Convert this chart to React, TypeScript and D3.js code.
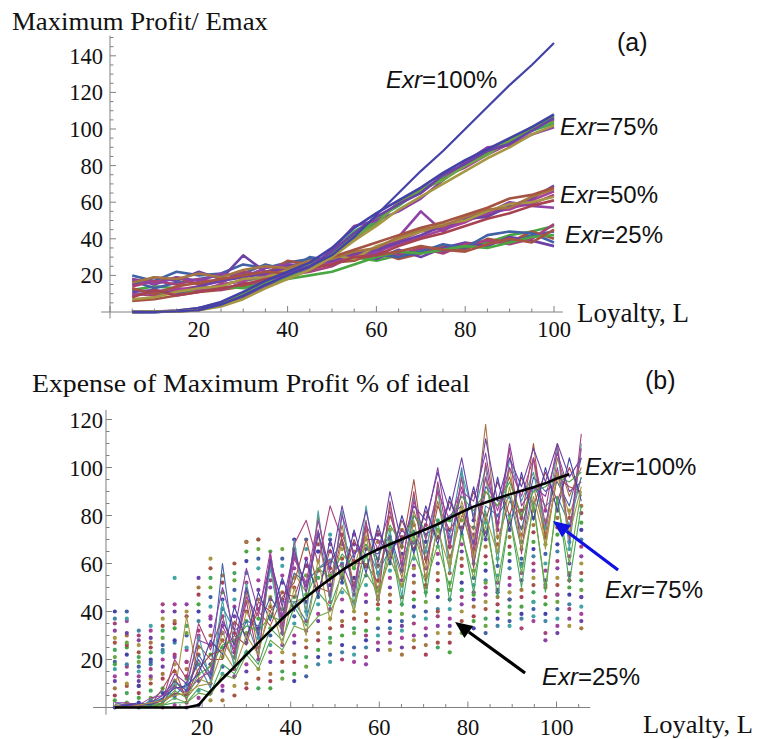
import React from "react";
import * as d3 from "d3";

// ---------- Panel (a) data ----------
const LA = [5, 10, 15, 20, 25, 30, 35, 40, 45, 50, 55, 60, 65, 70, 75, 80, 85, 90, 95, 100];
const A_EXR100 = [0, 0, 0.3, 1, 4, 9, 15, 20, 25, 31, 41, 53, 65, 77, 88, 100, 112, 124, 135, 147];
const A_EXR75 = [
  [0, 0, 0.4, 1.2, 4, 9, 14, 19, 24, 33, 44, 51, 58, 67, 73, 81, 88, 94, 99, 103],
  [0, 0.2, 0.8, 2, 5, 10, 16, 21, 26, 31, 40, 49, 60, 65, 74, 79, 86, 92, 100, 105],
  [0, 0, 0.5, 1.5, 3.5, 8, 15, 20, 25, 32, 42, 50, 59, 66, 73, 80, 87, 93, 100, 107],
  [0, 0, 0.3, 1, 4.5, 9.5, 15.5, 20.5, 24, 34, 47, 50, 55, 62, 72, 82, 90, 91, 97, 101],
  [0, 0.1, 0.6, 1.8, 5, 10, 16, 19, 26, 30, 41, 48, 60, 67, 72, 80, 86, 94, 101, 104],
  [0, 0, 0.4, 1.3, 4, 8.5, 14, 21, 25, 33, 43, 52, 59, 65, 75, 81, 88, 92, 99, 106],
  [0, 0, 0.6, 2.2, 5.5, 11, 17, 22, 27, 35, 46, 54, 61, 68, 76, 83, 89, 95, 101, 108],
  [0, 0.3, 0.2, 1, 3, 7, 13, 18, 23, 30, 39, 47, 56, 63, 70, 77, 84, 90, 97, 102],
];
const A_EXR50 = [
  [14, 17, 15, 18, 16, 22, 20, 24, 23, 29, 31, 35, 39, 44, 46, 50, 53, 57, 59, 64],
  [9, 11, 13, 12, 15, 17, 20, 22, 26, 27, 30, 33, 37, 41, 45, 49, 55, 56, 61, 66],
  [18, 15, 19, 17, 21, 19, 24, 26, 25, 30, 33, 32, 41, 55, 44, 52, 54, 60, 58, 57],
  [11, 12, 10, 14, 17, 19, 21, 25, 27, 28, 32, 34, 38, 42, 47, 51, 52, 58, 62, 69],
  [7, 8, 11, 13, 14, 18, 19, 23, 26, 31, 29, 36, 40, 44, 48, 50, 55, 59, 60, 63],
  [16, 19, 18, 21, 19, 23, 25, 24, 28, 29, 33, 35, 41, 45, 47, 52, 56, 57, 63, 67],
  [13, 10, 14, 16, 18, 20, 22, 21, 25, 30, 34, 38, 42, 46, 49, 53, 57, 62, 64, 68],
  [8, 12, 9, 11, 13, 15, 18, 20, 24, 26, 30, 31, 36, 40, 43, 47, 51, 54, 58, 61],
];
const A_EXR25 = [
  [20, 17, 22, 20, 21, 26, 24, 27, 29, 27, 33, 30, 32, 34, 33, 36, 38, 39, 42, 44],
  [12, 14, 13, 11, 15, 17, 19, 21, 24, 27, 30, 28, 31, 33, 35, 37, 38, 42, 44, 47],
  [6, 7, 9, 11, 12, 14, 17, 20, 23, 27, 28, 33, 29, 32, 36, 34, 40, 38, 44, 40],
  [15, 19, 17, 22, 18, 31, 22, 25, 27, 30, 32, 29, 34, 30, 35, 38, 36, 41, 39, 36],
  [10, 9, 12, 14, 12, 16, 15, 20, 22, 25, 31, 34, 31, 35, 32, 37, 39, 37, 40, 48],
  [17, 13, 16, 18, 20, 21, 26, 23, 30, 28, 30, 32, 30, 33, 37, 35, 42, 44, 43, 38],
  [9, 11, 10, 12, 14, 13, 16, 18, 20, 22, 26, 30, 33, 32, 34, 36, 35, 38, 41, 42],
  [18, 16, 19, 15, 17, 20, 21, 28, 26, 31, 29, 31, 33, 36, 34, 33, 37, 40, 38, 45],
];
const A_YTICKS = [20, 40, 60, 80, 100, 120, 140];
const A_XTICKS = [20, 40, 60, 80, 100];

// ---------- Panel (b) data ----------
const LB = [0.3, 3.0, 5.7, 8.4, 11.1, 13.8, 16.5, 19.2, 21.9, 24.6, 27.3, 30.0, 32.7, 35.4, 38.1, 40.8, 43.5, 46.2, 48.9, 51.6,
  54.3, 57.0, 59.7, 62.4, 65.1, 67.8, 70.5, 73.2, 75.9, 78.6, 81.3, 84.0, 86.7, 89.4, 92.1, 94.8, 97.5, 100.2, 102.9, 105.6];
const B_IDEAL = [0, 0, 0, 0, 0, 0, 0, 1, 6.8, 12, 16.9, 22, 27, 32, 37, 41.6, 45.9, 49.9, 53.6, 57.2,
  60.3, 63.5, 65.9, 68, 70.1, 72.2, 74.3, 76.4, 79, 81.4, 83.7, 85.4, 87.2, 88.8, 90.3, 91.8, 93.4, 95.5, 97.2];
const B_LINES = [
  [0, 1, 0, 1, 3, 6, 38, 12, 10, 32, 18, 40, 30, 60, 32, 56, 48, 72, 44, 70, 58, 76, 48, 84, 62, 72, 58, 90, 60, 86, 70, 96, 64, 100, 70, 104, 66, 98, 80, 96],
  [1, 0, 1, 0, 2, 9, 5, 22, 14, 60, 24, 36, 34, 46, 38, 56, 52, 58, 60, 70, 48, 66, 64, 72, 56, 80, 72, 76, 80, 84, 68, 92, 86, 88, 74, 96, 90, 94, 84, 104],
  [0, 2, 1, 2, 1, 12, 4, 10, 18, 28, 20, 48, 24, 40, 32, 66, 40, 80, 52, 76, 50, 74, 58, 70, 54, 82, 66, 86, 62, 80, 74, 118, 70, 86, 80, 92, 72, 104, 88, 100],
  [2, 1, 0, 3, 7, 5, 10, 18, 8, 42, 32, 36, 22, 60, 44, 44, 36, 58, 62, 56, 64, 68, 56, 66, 70, 74, 62, 78, 72, 100, 60, 84, 80, 88, 66, 92, 84, 88, 76, 96],
  [0, 0, 1, 1, 8, 16, 3, 26, 20, 20, 36, 30, 40, 34, 46, 52, 70, 50, 48, 72, 60, 60, 52, 80, 66, 95, 60, 84, 74, 82, 64, 90, 84, 96, 78, 110, 70, 96, 92, 90],
  [1, 0, 0, 2, 4, 10, 8, 30, 11, 45, 16, 52, 28, 58, 30, 70, 38, 82, 44, 82, 42, 84, 54, 74, 46, 88, 64, 92, 56, 98, 80, 100, 60, 104, 86, 98, 74, 108, 66, 110],
  [0, 1, 0, 0, 2, 6, 5, 16, 22, 24, 30, 26, 44, 40, 48, 46, 60, 48, 66, 54, 70, 58, 74, 62, 78, 66, 82, 70, 86, 74, 90, 78, 94, 80, 96, 84, 98, 86, 100, 88],
  [0, 0, 1, 1, 3, 20, 12, 35, 24, 38, 22, 44, 20, 64, 34, 68, 78, 60, 84, 70, 50, 78, 44, 86, 58, 90, 52, 94, 66, 96, 58, 102, 74, 108, 64, 104, 82, 110, 70, 114],
  [1, 0, 0, 1, 1, 2, 2, 8, 6, 18, 14, 24, 18, 33, 28, 42, 34, 48, 42, 56, 40, 64, 44, 70, 42, 72, 46, 78, 44, 74, 48, 82, 46, 80, 50, 86, 48, 88, 52, 84],
  [0, 1, 1, 4, 5, 9, 6, 12, 15, 34, 24, 46, 38, 65, 30, 62, 52, 78, 56, 60, 48, 76, 66, 82, 60, 86, 70, 90, 78, 92, 66, 96, 82, 100, 88, 104, 76, 100, 72, 108],
  [0, 0, 0, 1, 2, 7, 4, 14, 17, 26, 28, 34, 32, 38, 36, 44, 46, 58, 54, 64, 58, 68, 62, 76, 68, 80, 74, 76, 78, 88, 82, 90, 84, 94, 80, 90, 92, 96, 94, 98],
  [2, 2, 1, 2, 3, 14, 10, 28, 26, 50, 32, 58, 40, 60, 38, 64, 50, 74, 46, 80, 64, 70, 70, 64, 74, 68, 76, 100, 68, 90, 86, 106, 76, 110, 84, 92, 88, 106, 90, 94],
  [0, 0, 0, 0, 1, 4, 2, 6, 5, 14, 12, 22, 16, 28, 24, 34, 32, 38, 40, 50, 44, 56, 48, 62, 50, 64, 52, 68, 50, 72, 54, 76, 52, 80, 56, 84, 50, 86, 60, 90],
  [1, 1, 1, 2, 5, 11, 7, 20, 12, 36, 26, 50, 30, 62, 42, 66, 48, 72, 58, 84, 62, 82, 60, 90, 68, 84, 78, 98, 82, 104, 78, 112, 86, 104, 92, 108, 94, 110, 96, 104],
  [0, 1, 2, 1, 4, 8, 9, 14, 28, 22, 42, 28, 48, 36, 54, 40, 62, 46, 70, 52, 74, 56, 76, 60, 80, 64, 84, 68, 88, 72, 92, 70, 96, 74, 98, 78, 100, 82, 104, 86],
  [1, 0, 1, 2, 3, 5, 6, 9, 10, 24, 16, 30, 22, 44, 26, 50, 30, 62, 36, 58, 40, 72, 44, 66, 50, 78, 54, 74, 58, 84, 62, 80, 64, 92, 66, 88, 68, 98, 72, 92],
];
const B_DOTS = [
  [0, 1, 0, 1, 0, 1, 0, 1, 3, 3, 5, 8, 8, 8, 12, 11, 13, 18, 19, 20, 19, 18, 24, 24, 22, 25, 22, 25, 23, 31, 33, 31, 34, 34, 33, 36, 28, 31, 34, 33],
  [3, 2, 2, 3, 3, 4, 2, 4, 6, 7, 9, 10, 12, 11, 15, 14, 17, 21, 22, 23, 22, 21, 27, 27, 25, 28, 26, 27, 27, 33, 36, 34, 37, 36, 37, 38, 31, 34, 37, 36],
  [5, 6, 4, 4, 6, 5, 7, 7, 10, 9, 13, 15, 16, 14, 19, 19, 21, 24, 27, 26, 25, 25, 30, 31, 29, 30, 30, 31, 31, 36, 38, 37, 40, 39, 39, 41, 36, 37, 41, 39],
  [8, 9, 6, 7, 8, 9, 10, 11, 14, 14, 16, 18, 20, 19, 23, 22, 25, 28, 29, 30, 31, 28, 33, 33, 32, 35, 33, 34, 34, 40, 42, 41, 43, 42, 42, 44, 39, 41, 43, 42],
  [11, 10, 9, 10, 12, 11, 12, 14, 18, 17, 21, 23, 25, 23, 26, 27, 28, 31, 33, 34, 33, 32, 37, 36, 36, 38, 37, 38, 37, 43, 45, 44, 46, 45, 46, 48, 43, 44, 47, 46],
  [13, 14, 11, 12, 14, 15, 13, 18, 22, 21, 23, 27, 29, 26, 31, 30, 32, 36, 37, 36, 37, 36, 41, 40, 39, 42, 40, 41, 41, 46, 48, 47, 49, 48, 49, 51, 46, 47, 50, 49],
  [16, 17, 13, 13, 17, 18, 16, 22, 26, 25, 27, 31, 33, 30, 34, 35, 36, 39, 41, 40, 40, 39, 43, 44, 43, 45, 44, 46, 45, 49, 51, 50, 52, 51, 53, 54, 50, 51, 53, 53],
  [19, 18, 15, 16, 20, 21, 19, 25, 30, 28, 31, 36, 37, 33, 38, 38, 40, 43, 44, 45, 44, 44, 46, 47, 46, 48, 48, 49, 49, 52, 54, 53, 55, 54, 56, 57, 53, 54, 56, 56],
  [21, 22, 17, 18, 23, 22, 24, 29, 34, 31, 35, 40, 41, 38, 41, 42, 44, 46, 47, 48, 47, 47, 50, 50, 51, 52, 51, 53, 52, 56, 57, 57, 59, 58, 59, 60, 57, 58, 60, 60],
  [24, 25, 19, 20, 26, 27, 25, 32, 38, 34, 38, 44, 45, 42, 45, 46, 47, 50, 51, 52, 51, 51, 53, 54, 53, 55, 55, 56, 56, 59, 60, 60, 62, 61, 62, 63, 60, 61, 63, 63],
  [27, 26, 21, 23, 29, 28, 30, 36, 42, 38, 42, 48, 49, 46, 48, 50, 51, 54, 55, 54, 54, 55, 56, 57, 57, 59, 58, 60, 60, 62, 63, 63, 65, 64, 66, 66, 64, 65, 66, 67],
  [29, 30, 23, 25, 32, 33, 31, 40, 46, 41, 45, 52, 53, 50, 52, 54, 55, 57, 58, 59, 58, 59, 59, 60, 60, 62, 62, 64, 63, 65, 66, 67, 68, 67, 69, 69, 68, 68, 69, 70],
  [32, 31, 26, 27, 34, 35, 34, 43, 50, 45, 49, 56, 58, 53, 55, 58, 59, 61, 61, 62, 61, 63, 62, 64, 64, 66, 65, 67, 67, 68, 69, 70, 71, 71, 72, 73, 71, 72, 72, 74],
  [35, 36, 28, 29, 37, 36, 38, 47, 54, 48, 53, 61, 62, 57, 59, 62, 62, 65, 65, 66, 65, 66, 66, 67, 67, 69, 69, 71, 71, 72, 72, 73, 74, 74, 75, 76, 75, 75, 76, 77],
  [37, 37, 30, 32, 40, 40, 40, 50, 58, 52, 56, 65, 66, 61, 62, 66, 66, 68, 68, 68, 68, 70, 69, 71, 71, 73, 72, 74, 74, 75, 75, 77, 77, 77, 79, 79, 78, 79, 79, 81],
  [40, 40, 32, 34, 43, 43, 43, 54, 62, 55, 60, 69, 70, 65, 66, 70, 70, 72, 72, 72, 72, 74, 72, 74, 74, 76, 76, 78, 78, 78, 78, 80, 80, 80, 82, 82, 82, 82, 82, 84],
  [18, 27, 9, 19, 24, 54, 19, 30, 37, 31, 28, 69, 70, 45, 31, 66, 55, 65, 70, 60, 52, 30, 45, 70, 34, 58, 50, 40, 67, 49, 47, 52, 48, 45, 60, 44, 51, 47, 55, 46],
];
const B_YTICKS = [20, 40, 60, 80, 100, 120];
const B_XTICKS = [20, 40, 60, 80, 100];

// Mathematica-style default palette (golden-ratio hues)
const PALETTE = ["#4442a6", "#a6427b", "#a69742", "#42a65d", "#4262a6", "#a6429c", "#a67642", "#49a642",
  "#4283a6", "#8f42a6", "#a65442", "#6aa642", "#42a4a6", "#6d42a6", "#a64251"];

const SERIF = "'Liberation Serif', 'Times New Roman', serif";
const SANS = "'Liberation Sans', Arial, sans-serif";
const AXIS = "#808080";

// scales
const xA = d3.scaleLinear().domain([0, 100]).range([110, 554]);
const yA = d3.scaleLinear().domain([0, 140]).range([312, 55.8]);
const xB = d3.scaleLinear().domain([0, 100]).range([113.5, 556.5]);
const yB = d3.scaleLinear().domain([0, 120]).range([707.5, 419.5]);

function Arrow({ x1, y1, x2, y2, color }: { x1: number; y1: number; x2: number; y2: number; color: string }) {
  const ang = Math.atan2(y2 - y1, x2 - x1);
  const len = 17, hw = 7.5;
  const bx = x2 - len * Math.cos(ang), by = y2 - len * Math.sin(ang);
  const px = -Math.sin(ang) * hw, py = Math.cos(ang) * hw;
  return (
    <g>
      <line x1={x1} y1={y1} x2={bx} y2={by} stroke={color} strokeWidth={3.2} />
      <polygon points={`${x2},${y2} ${bx + px},${by + py} ${bx - px},${by - py}`} fill={color} />
    </g>
  );
}

function ExrLabel({ x, y, rest, size = 24 }: { x: number; y: number; rest: string; size?: number }) {
  return (
    <text x={x} y={y} fontFamily={SANS} fontSize={size} fill="#111">
      <tspan fontStyle="italic">Exr</tspan>
      <tspan>{rest}</tspan>
    </text>
  );
}

export default function App() {
  const lineA = d3.line<number>().x((_, i) => xA(LA[i])).y((d) => yA(d));
  const lineB = d3.line<number>().x((_, i) => xB(LB[i])).y((d) => yB(d));

  const aMinorY = d3.range(5, 151, 5);
  const aMinorX = d3.range(0, 101, 5);
  const bMinorY = d3.range(5, 121, 5);
  const bMinorX = d3.range(0, 106, 5);

  const blueTail = { l: 113.9, v: 57.3 }, blueTip = { l: 99.2, v: 77.7 };
  const blackTail = { l: 92.9, v: 14.4 }, blackTip = { l: 77.1, v: 35.6 };

  return (
    <svg width={758} height={739} style={{ position: "absolute", left: 0, top: 0, background: "#fff" }}>
      <rect x={0} y={0} width={758} height={739} fill="#fff" />

      {/* ================= Panel (a) ================= */}
      <text x={12} y={30} fontFamily={SERIF} fontSize={26} textLength={256} lengthAdjust="spacingAndGlyphs" fill="#111">
        Maximum Profit/ Emax
      </text>
      <text x={617} y={51} fontFamily={SANS} fontSize={25} fill="#111">(a)</text>

      <line x1={xA(0)} y1={yA(151)} x2={xA(0)} y2={yA(-3.5)} stroke={AXIS} strokeWidth={1} />
      <line x1={xA(-2)} y1={yA(0)} x2={xA(102)} y2={yA(0)} stroke={AXIS} strokeWidth={1} />
      {aMinorY.map((v) => (
        <line key={"amy" + v} x1={xA(0)} x2={xA(0) + (v % 20 === 0 ? 6 : 3.5)} y1={yA(v)} y2={yA(v)} stroke={AXIS} strokeWidth={1} />
      ))}
      {aMinorX.map((v) => (
        <line key={"amx" + v} x1={xA(v)} x2={xA(v)} y1={yA(0)} y2={yA(0) - (v % 20 === 0 ? 6 : 3.5)} stroke={AXIS} strokeWidth={1} />
      ))}
      {A_YTICKS.map((v) => (
        <text key={"ayt" + v} x={103} y={yA(v) + 8} textAnchor="end" fontFamily={SERIF} fontSize={22.5} fill="#111">{v}</text>
      ))}
      {A_XTICKS.map((v) => (
        <text key={"axt" + v} x={xA(v)} y={337} textAnchor="middle" fontFamily={SERIF} fontSize={22.5} fill="#111">{v}</text>
      ))}
      <text x={577} y={322} fontFamily={SERIF} fontSize={27} textLength={112} lengthAdjust="spacingAndGlyphs" fill="#111">Loyalty, L</text>

      <g fill="none" strokeWidth={2.6} strokeLinejoin="round">
        {A_EXR25.map((s, i) => <path key={"a25" + i} d={lineA(s) || ""} stroke={PALETTE[(i * 3 + 4) % 15]} />)}
        {A_EXR50.map((s, i) => <path key={"a50" + i} d={lineA(s) || ""} stroke={PALETTE[(i * 4 + 1) % 15]} />)}
        {A_EXR75.map((s, i) => <path key={"a75" + i} d={lineA(s) || ""} stroke={PALETTE[(i * 2 + 3) % 15]} />)}
        <path d={lineA(A_EXR100) || ""} stroke={PALETTE[0]} strokeWidth={2.2} />
      </g>

      <ExrLabel x={386} y={88} rest="=100%" />
      <ExrLabel x={560} y={135} rest="=75%" />
      <ExrLabel x={560} y={203} rest="=50%" />
      <ExrLabel x={565} y={243} rest="=25%" />

      {/* ================= Panel (b) ================= */}
      <text x={32} y={392} fontFamily={SERIF} fontSize={26} textLength={438} lengthAdjust="spacingAndGlyphs" fill="#111">
        Expense of Maximum Profit % of ideal
      </text>
      <text x={645} y={389} fontFamily={SANS} fontSize={25} fill="#111">(b)</text>

      <line x1={xB(-1.7)} y1={yB(124)} x2={xB(-1.7)} y2={yB(-3)} stroke={AXIS} strokeWidth={1} />
      <line x1={xB(-4.6)} y1={yB(0)} x2={xB(107.6)} y2={yB(0)} stroke={AXIS} strokeWidth={1} />
      {bMinorY.map((v) => (
        <line key={"bmy" + v} x1={xB(-1.7)} x2={xB(-1.7) + (v % 20 === 0 ? 6 : 3.5)} y1={yB(v)} y2={yB(v)} stroke={AXIS} strokeWidth={1} />
      ))}
      {bMinorX.map((v) => (
        <line key={"bmx" + v} x1={xB(v)} x2={xB(v)} y1={yB(0)} y2={yB(0) - (v % 20 === 0 ? 6 : 3.5)} stroke={AXIS} strokeWidth={1} />
      ))}
      {B_YTICKS.map((v) => (
        <text key={"byt" + v} x={103} y={yB(v) + 8} textAnchor="end" fontFamily={SERIF} fontSize={22.5} fill="#111">{v}</text>
      ))}
      {B_XTICKS.map((v) => (
        <text key={"bxt" + v} x={xB(v)} y={735} textAnchor="middle" fontFamily={SERIF} fontSize={22.5} fill="#111">{v}</text>
      ))}
      <text x={643} y={733} fontFamily={SERIF} fontSize={25} textLength={110} lengthAdjust="spacingAndGlyphs" fill="#111">Loyalty, L</text>

      <g>
        {B_DOTS.map((s, si) =>
          s.map((v, ci) => (
            <circle key={`d${si}-${ci}`} cx={xB(LB[ci])} cy={yB(v)} r={2.1} fill={PALETTE[(si * 7 + ci * 4) % 15]} />
          ))
        )}
      </g>
      <g fill="none" strokeWidth={1.1} strokeLinejoin="round">
        {B_LINES.map((s, i) => <path key={"bl" + i} d={lineB(s) || ""} stroke={PALETTE[(i * 2 + 2) % 15]} />)}
      </g>
      <path d={lineB(B_IDEAL) || ""} fill="none" stroke="#000" strokeWidth={2.6} strokeLinejoin="round" />

      <ExrLabel x={585} y={475} rest="=100%" />
      <ExrLabel x={605} y={598} rest="=75%" />
      <ExrLabel x={542} y={685} rest="=25%" />
      <Arrow x1={xB(blueTail.l)} y1={yB(blueTail.v)} x2={xB(blueTip.l)} y2={yB(blueTip.v)} color="#1010e0" />
      <Arrow x1={xB(blackTail.l)} y1={yB(blackTail.v)} x2={xB(blackTip.l)} y2={yB(blackTip.v)} color="#000" />
    </svg>
  );
}
